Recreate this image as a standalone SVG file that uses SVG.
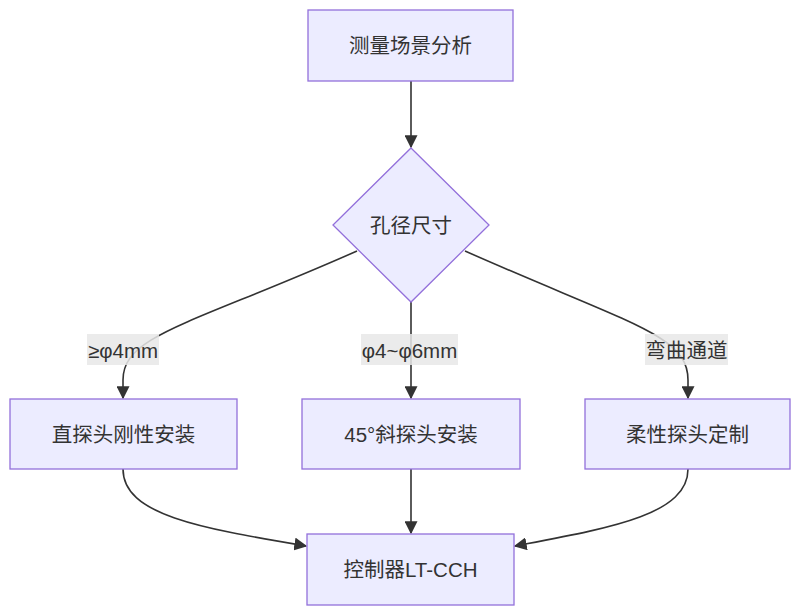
<svg xmlns="http://www.w3.org/2000/svg" width="800" height="616" viewBox="0 0 800 616">
<style>
.node rect,.node polygon{fill:#ECECFF;stroke:#9370DB;stroke-width:1.3}
text{font-family:"Liberation Sans","Noto Sans CJK SC",sans-serif;font-size:20.5px;fill:#333;text-anchor:middle;dominant-baseline:central}
.edge{fill:none;stroke:#333;stroke-width:1.6}
.lbg{fill:#e8e8e8;opacity:0.85}
</style>
<defs>
<marker id="arr" viewBox="0 0 10 10" refX="9" refY="5" markerUnits="userSpaceOnUse" markerWidth="13" markerHeight="13" orient="auto">
<path d="M0,0 L10,5 L0,10 z" fill="#333"/>
</marker>
</defs>
<rect width="800" height="616" fill="#fff"/>
<g id="edges">
<path class="edge" d="M411,81 L411,147" marker-end="url(#arr)"/>
<path class="edge" d="M357,251 C190,325 123,335 123,380 L123,398" marker-end="url(#arr)"/>
<path class="edge" d="M411,302 L411,398" marker-end="url(#arr)"/>
<path class="edge" d="M465,251 C632,325 688,335 688,380 L688,398" marker-end="url(#arr)"/>
<path class="edge" d="M123,469 C123,515 200,528 306,546" marker-end="url(#arr)"/>
<path class="edge" d="M411,469 L411,533" marker-end="url(#arr)"/>
<path class="edge" d="M688,469 C688,515 610,528 515,546" marker-end="url(#arr)"/>
</g>
<g id="labels">
<rect class="lbg" x="87" y="334" width="72" height="31"/>
<text x="123" y="350">≥φ4mm</text>
<rect class="lbg" x="361" y="334" width="97" height="31"/>
<text x="409.5" y="350">φ4~φ6mm</text>
<rect class="lbg" x="645" y="334" width="83" height="31"/>
<text x="686.5" y="350">弯曲通道</text>
</g>
<g id="n1" class="node">
<rect x="308" y="10" width="205" height="71"/>
<text x="410.5" y="45.5">测量场景分析</text>
</g>
<g id="n2" class="node">
<polygon points="411,148 489,225 411,302 333,225"/>
<text x="411" y="225">孔径尺寸</text>
</g>
<g id="n3" class="node">
<rect x="10" y="399" width="227" height="70"/>
<text x="123.5" y="434">直探头刚性安装</text>
</g>
<g id="n4" class="node">
<rect x="302" y="399" width="218" height="70"/>
<text x="411" y="434">45°斜探头安装</text>
</g>
<g id="n5" class="node">
<rect x="585" y="399" width="205" height="70"/>
<text x="687.5" y="434">柔性探头定制</text>
</g>
<g id="n6" class="node">
<rect x="307" y="534" width="207" height="71"/>
<text x="410.5" y="569.5">控制器LT-CCH</text>
</g>
</svg>
